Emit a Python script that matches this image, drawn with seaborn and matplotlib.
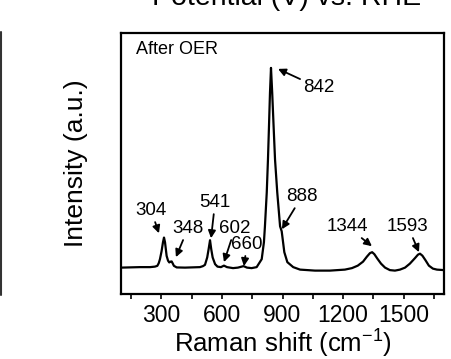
import matplotlib
matplotlib.use("Agg")
import matplotlib.pyplot as plt
from matplotlib.ticker import MultipleLocator
from matplotlib.lines import Line2D
import seaborn as sns
import pandas as pd

# Spectrum (Raman shift in cm-1, intensity in arbitrary units)
raman_shift = [100, 194, 244, 268, 280, 287, 293, 301, 308, 313, 318, 326, 333, 339,
               345, 351, 358, 362, 376, 417,
               491, 506, 516, 527, 534, 541, 547, 554, 566, 578, 595, 610, 625,
               655, 679, 707, 724,
               747, 772, 797, 808, 813, 822, 828, 833, 838, 843, 849, 856, 863,
               874, 888, 896, 901, 909, 924, 953, 987,
               1061, 1135, 1209, 1244, 1273, 1299, 1318, 1333, 1344, 1355, 1370,
               1388, 1408, 1432, 1457, 1482, 1507, 1531, 1556, 1571, 1581, 1593,
               1608, 1625, 1645, 1665, 1700]
intensity = [26.5, 27, 27, 27.5, 28.3, 31, 35, 43, 52, 56.7, 52, 38.3, 33.5, 31.7,
             32.5, 32.7, 30, 28.3, 26.7, 26.5,
             27, 28, 29.3, 36.7, 45, 54, 45, 36.7, 30, 27.5, 27, 28.5, 27,
             26, 26.5, 28, 26.5,
             26, 27, 35, 52, 68, 102, 135, 168, 202, 227, 202, 168, 135,
             102, 68, 63, 55, 42, 32, 27, 24.5,
             23.5, 23.5, 24.5, 26, 28.5, 32.5, 37.5, 41, 42, 40, 35.5,
             30.5, 26.5, 24, 23.5, 24.5, 26.5, 30.5, 36, 39.5, 40.5, 38.5,
             34, 28.5, 25.5, 24.5, 24]

peak_labels = ["304", "348", "541", "602", "660", "842", "888", "1344", "1593"]

x_ticks = [300, 600, 900, 1200, 1500]
sample_label = "After OER"
x_label = "Raman shift (cm$^{-1}$)"
y_label = "Intensity (a.u.)"
cut_title = "Potential (V) vs. RHE"

# layout: arrow tip and text position for each peak label (data coordinates)
label_layout = [
    ((288, 61), (249, 84)),
    ((372, 37), (432, 66)),
    ((546, 56), (566, 92)),
    ((610, 32), (665, 66)),
    ((709, 28), (724, 50)),
    ((878, 226), (1081, 207)),
    ((897, 65), (996, 98)),
    ((1343, 48), (1219, 68)),
    ((1576, 42), (1521, 68)),
]

sns.set_theme(style="ticks")
plt.rcParams["font.family"] = ["Liberation Sans", "DejaVu Sans"]
plt.rcParams["mathtext.fontset"] = "custom"
plt.rcParams["mathtext.rm"] = "Liberation Sans"
plt.rcParams["mathtext.it"] = "Liberation Sans"

fig = plt.figure(figsize=(4.52, 3.59), dpi=100)
ax = fig.add_axes([0.2677, 0.181, 0.9823 - 0.2677, 0.908 - 0.181])

df = pd.DataFrame({"shift": raman_shift, "intensity": intensity})
sns.lineplot(data=df, x="shift", y="intensity", ax=ax, color="black", linewidth=1.6,
             sort=True)
for ln in ax.get_lines():
    ln.set_solid_joinstyle("round")

ax.set_xlim(100, 1700)
ax.set_ylim(0, 262)
ax.set_xticks(x_ticks)
ax.xaxis.set_minor_locator(MultipleLocator(150))
ax.set_yticks([])
ax.tick_params(axis="x", which="both", direction="out", length=3.5, width=1.2,
               labelsize=16.5, pad=4, colors="black")
for s in ax.spines.values():
    s.set_visible(True)
    s.set_linewidth(1.6)
    s.set_color("black")

ax.set_xlabel(x_label, fontsize=18.5, labelpad=0, color="black")
ax.set_ylabel(y_label, fontsize=19, labelpad=24, color="black")

ax.text(0.045, 0.935, sample_label, transform=ax.transAxes, fontsize=13,
        ha="left", va="center", color="black")

for lab, (tip, txt) in zip(peak_labels, label_layout):
    ax.annotate(lab, xy=tip, xytext=txt, textcoords="data", fontsize=13.5,
                ha="center", va="center", color="black",
                arrowprops=dict(arrowstyle="-|>", color="black", lw=1.3,
                                mutation_scale=11, shrinkA=0, shrinkB=0))

# partially visible title of the neighbouring panel and its frame edge
fig.text(287 / 452, 1 - 5 / 359, cut_title, fontsize=20.5, ha="center",
         va="baseline", color="black")
fig.add_artist(Line2D([1.5 / 452, 1.5 / 452], [1 - 32 / 359, 1 - 295 / 359],
                      color="#333333", linewidth=1.5, transform=fig.transFigure))

fig.savefig("out.png", dpi=100)
